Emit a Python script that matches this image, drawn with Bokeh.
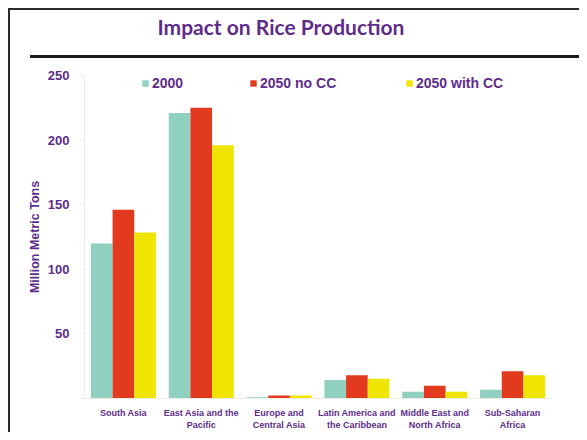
from bokeh.plotting import figure
from bokeh.models import ColumnDataSource, FixedTicker, Legend, LegendItem, InlineStyleSheet
from bokeh.transform import dodge
from bokeh.embed import file_html
from bokeh.resources import INLINE

regions = ["South Asia", "East Asia and the\nPacific", "Europe and\nCentral Asia",
           "Latin America and\nthe Caribbean", "Middle East and\nNorth Africa", "Sub-Saharan\nAfrica"]
series_names = ["2000", "2050 no CC", "2050 with CC"]
v2000 = [120, 221, 1, 14.3, 5.3, 6.8]
v2050_no_cc = [146, 225, 2.3, 18, 9.8, 21]
v2050_with_cc = [128.5, 196, 2.3, 15.2, 5.3, 18]
y_ticks = [0, 50, 100, 150, 200, 250]

colors = ["#8FD0C0", "#E23A1E", "#F0E500"]
purple = "#5E2D8C"

src = ColumnDataSource(dict(region=regions, a=v2000, b=v2050_no_cc, c=v2050_with_cc))

p = figure(x_range=regions, y_range=(0, 250), width=579, height=432,
           output_backend="svg", toolbar_location=None,
           min_border_left=84, min_border_right=28, min_border_top=75, min_border_bottom=32,
           title="Impact on Rice Production\n")
p.x_range.range_padding = 0
p.outline_line_color = None
p.grid.grid_line_color = None
p.background_fill_color = "white"
p.border_fill_color = "white"

p.title.text_font = "Lato"
p.title.text_font_style = "bold"
p.title.text_font_size = "21px"
p.title.text_color = purple
p.title.align = "left"
p.title.offset = 73
p.title.vertical_align = "top"
p.title.standoff = 20

w = 0.2785
r1 = p.vbar(x=dodge("region", -w, range=p.x_range), top="a", width=w, source=src, color=colors[0], line_color=None)
r2 = p.vbar(x=dodge("region", 0, range=p.x_range), top="b", width=w, source=src, color=colors[1], line_color=None)
r3 = p.vbar(x=dodge("region", w, range=p.x_range), top="c", width=w, source=src, color=colors[2], line_color=None)

for r, name, loc in zip([r1, r2, r3], series_names, [(57, 307), (165, 307), (321, 307)]):
    lg = Legend(items=[LegendItem(label=name, renderers=[r])], location=loc,
                orientation="horizontal", padding=0, margin=0, spacing=0,
                border_line_color=None, background_fill_alpha=0,
                glyph_width=8, glyph_height=8, label_standoff=3, label_height=14,
                label_text_font="Liberation Sans", label_text_font_style="bold",
                label_text_font_size="14px", label_text_color=purple)
    p.add_layout(lg, "center")

axis_col = "#EEECE4"
ya = p.yaxis[0]
ya.ticker = FixedTicker(ticks=y_ticks)
ya.major_label_overrides = {0: ""}
ya.axis_line_color = axis_col
ya.major_tick_line_color = axis_col
ya.major_tick_in = 0
ya.major_tick_out = 4
ya.minor_tick_line_color = None
ya.major_label_text_font = "Liberation Sans"
ya.major_label_text_font_style = "bold"
ya.major_label_text_font_size = "13px"
ya.major_label_text_color = purple
ya.major_label_standoff = 11
ya.axis_label = "Million Metric Tons"
ya.axis_label_text_font = "Liberation Sans"
ya.axis_label_text_font_style = "bold"
ya.axis_label_text_font_size = "12.5px"
ya.axis_label_text_color = purple
ya.axis_label_standoff = 3

xa = p.xaxis[0]
xa.axis_line_color = axis_col
xa.major_tick_line_color = None
xa.major_label_text_font = "Liberation Sans"
xa.major_label_text_font_style = "bold"
xa.major_label_text_font_size = "9px"
xa.major_label_text_color = purple
xa.major_label_standoff = 3

css = """
:host { position: relative; }
:host::before { content: ""; position: absolute; left: 8px; top: 8px; right: 0; bottom: 0;
  border-left: 2px solid #2b2b2b; border-top: 2px solid #2b2b2b; pointer-events: none; z-index: 10; }
:host::after { content: ""; position: absolute; left: 30px; top: 55px; right: 0; height: 3px;
  background: #1a1a1a; pointer-events: none; z-index: 10; }
"""
p.stylesheets = [InlineStyleSheet(css=css)]

open("out.html", "w").write(file_html(p, INLINE))
